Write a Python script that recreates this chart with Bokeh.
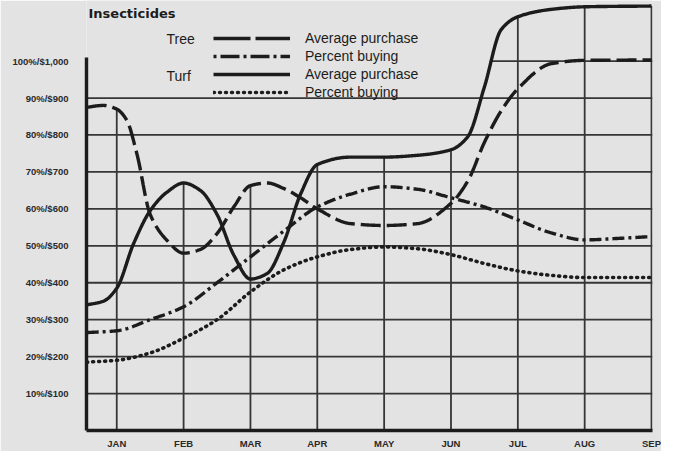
import numpy as np
from bokeh.plotting import figure
from bokeh.models import (FixedTicker, Range1d, Label, Legend, LegendItem)
from bokeh.embed import file_html
from bokeh.resources import INLINE

# ---------------- data ----------------
months = ["JAN", "FEB", "MAR", "APR", "MAY", "JUN", "JUL", "AUG", "SEP"]
month_pos = [0, 1, 2, 3, 4, 5, 6, 7, 8]

y_ticks = [10, 20, 30, 40, 50, 60, 70, 80, 90, 100]
y_tick_labels = ["10%/$100", "20%/$200", "30%/$300", "40%/$400", "50%/$500",
                 "60%/$600", "70%/$700", "80%/$800", "90%/$900", "100%/$1,000"]

# Tree - average purchase (long dashes)
tree_avg_x = [-0.45, -0.2, 0, 0.15, 0.3, 0.5, 0.75, 1, 1.25, 1.5, 1.75, 2, 2.25,
              2.5, 2.75, 3, 3.5, 4, 4.5, 5, 5.25, 5.5, 5.75, 6, 6.5, 7, 8]
tree_avg_y = [87.5, 88, 87, 84, 75, 58.5, 51.5, 48, 49, 53.3, 60.5, 66.3, 67,
              65.5, 63, 60, 56, 55.5, 56, 61.5, 67.5, 78, 86.5, 92.5, 99.3, 100.2, 100.3]

# Tree - percent buying (dash-dot)
tree_pct_x = [-0.45, 0, 0.5, 1, 1.5, 2, 2.5, 3, 3.5, 4, 4.5, 5, 5.5, 6, 6.5, 7, 7.5, 8]
tree_pct_y = [26.5, 27, 30, 33.5, 40, 47, 54, 60.5, 64, 66, 65.3, 63, 60.5, 57,
              53.5, 51.6, 52, 52.5]

# Turf - average purchase (solid)
turf_avg_x = [-0.45, -0.2, 0, 0.25, 0.5, 0.75, 1, 1.25, 1.5, 1.75, 2, 2.25, 2.5,
              2.75, 3, 3.5, 4, 4.5, 5, 5.25, 5.5, 5.75, 6, 6.5, 7, 8]
turf_avg_y = [34, 35, 38.5, 50.5, 59.5, 64.5, 67, 65, 58.5, 47.5, 41, 42.5, 51,
              64, 72, 74, 74, 74.5, 76, 79.5, 93, 108.5, 112, 114, 114.7, 114.9]

# Turf - percent buying (dotted)
turf_pct_x = [-0.45, 0, 0.5, 1, 1.5, 2, 2.5, 3, 3.5, 4, 4.5, 5, 5.5, 6, 6.5, 7, 8]
turf_pct_y = [18.5, 19, 21, 25, 30, 37.5, 43.5, 47, 49, 49.7, 49.2, 47.6, 45.2,
              43.2, 42, 41.4, 41.4]

# ---------------- styling ----------------
BG = "#e3e3e3"
INK = "#1c1c1c"
GRID = "#363636"


def smooth(xs, ys, n=700):
    """Monotone cubic (PCHIP) rendering of the read points."""
    xs = np.asarray(xs, float)
    ys = np.asarray(ys, float)
    h = np.diff(xs)
    d = np.diff(ys) / h
    m = np.zeros(len(xs))
    for k in range(1, len(xs) - 1):
        if d[k - 1] * d[k] > 0:
            w1 = 2 * h[k] + h[k - 1]
            w2 = h[k] + 2 * h[k - 1]
            m[k] = (w1 + w2) / (w1 / d[k - 1] + w2 / d[k])
    m[0] = d[0]
    m[-1] = d[-1]
    xq = np.linspace(xs[0], xs[-1], n)
    i = np.clip(np.searchsorted(xs, xq, side="right") - 1, 0, len(xs) - 2)
    t = (xq - xs[i]) / h[i]
    h00 = 2 * t**3 - 3 * t**2 + 1
    h10 = t**3 - 2 * t**2 + t
    h01 = -2 * t**3 + 3 * t**2
    h11 = t**3 - t**2
    yq = h00 * ys[i] + h10 * h[i] * m[i] + h01 * ys[i + 1] + h11 * h[i] * m[i + 1]
    return xq, yq


X0, X1 = -0.4526, 8.0146
Y0, Y1 = 0, 116.4

p = figure(width=661, height=451, output_backend="svg", toolbar_location=None,
           x_range=Range1d(X0, X1), y_range=Range1d(Y0, Y1),
           min_border_left=86, min_border_right=9, min_border_top=0,
           min_border_bottom=21)
p.background_fill_color = BG
p.border_fill_color = BG
p.outline_line_color = None
p.xgrid.visible = False
p.ygrid.visible = False

curves = {
    "tree_avg": smooth(tree_avg_x, tree_avg_y),
    "tree_pct": smooth(tree_pct_x, tree_pct_y),
    "turf_avg": smooth(turf_avg_x, turf_avg_y),
    "turf_pct": smooth(turf_pct_x, turf_pct_y),
}

# ---------------- grid (drawn as segments, clipped by the top curve) ----------------
tops = []
for mp in month_pos:
    tops.append(max(np.interp(mp, cx, cy) for cx, cy in curves.values()))
p.segment(x0=month_pos, y0=[0] * len(month_pos), x1=month_pos, y1=tops,
          line_color=GRID, line_width=1.8)

tx, ty = curves["turf_avg"]
cross_x = float(tx[np.argmax(ty >= 100)])
h_x0 = [X0 if t < 100 else cross_x for t in y_ticks]
p.segment(x0=h_x0, y0=y_ticks, x1=[X1] * len(y_ticks), y1=y_ticks,
          line_color=GRID, line_width=1.8)

# ---------------- curves ----------------
cx, cy = curves["tree_avg"]
p.line(cx, cy, line_color=INK, line_width=3.4, line_dash="20 6")
cx, cy = curves["tree_pct"]
p.line(cx, cy, line_color=INK, line_width=3.4, line_dash="12 4 3 4")
cx, cy = curves["turf_avg"]
p.line(cx, cy, line_color=INK, line_width=3.4)
cx, cy = curves["turf_pct"]
p.line(cx, cy, line_color=INK, line_width=3.6, line_dash="1 5", line_cap="round")

# ---------------- legend (sample styles) ----------------
nan1 = np.array([np.nan])
lg1 = p.line(nan1, nan1, line_color=INK, line_width=3.4, line_dash="37 5")
lg2 = p.line(nan1, nan1, line_color=INK, line_width=3.4, line_dash="3 4 19 4")
lg3 = p.line(nan1, nan1, line_color=INK, line_width=3.6)
lg4 = p.line(nan1, nan1, line_color=INK, line_width=3.4, line_dash="1 5", line_cap="round")
legend = Legend(items=[
    LegendItem(label="Average purchase", renderers=[lg1]),
    LegendItem(label="Percent buying", renderers=[lg2]),
    LegendItem(label="Average purchase", renderers=[lg3]),
    LegendItem(label="Percent buying", renderers=[lg4]),
], location=(127, 329), padding=0, margin=0, spacing=0,
    glyph_width=77, glyph_height=18, label_height=18, label_standoff=15,
    label_text_font="Liberation Sans", label_text_font_size="14px",
    label_text_color=INK, label_text_baseline="alphabetic",
    background_fill_alpha=0, border_line_color=None)
p.add_layout(legend, "center")

for txt, x, y in [("Tree", 80, 392), ("Turf", 80, 355)]:
    p.add_layout(Label(x=x, y=y, x_units="screen", y_units="screen", text=txt,
                       text_font="Liberation Sans", text_font_size="14px",
                       text_color=INK, text_baseline="middle", text_align="left"))

p.add_layout(Label(x=2, y=417, x_units="screen", y_units="screen",
                   text="Insecticides", text_font="DejaVu Sans",
                   text_font_style="bold", text_font_size="13px",
                   text_color=INK, text_baseline="middle", text_align="left"))

# ---------------- axes ----------------
p.xaxis.ticker = FixedTicker(ticks=month_pos)
p.xaxis.major_label_overrides = {m: lab for m, lab in zip(month_pos, months)}
p.yaxis.ticker = FixedTicker(ticks=y_ticks)
p.yaxis.major_label_overrides = {t: lab for t, lab in zip(y_ticks, y_tick_labels)}
p.yaxis.bounds = (0, 101)

for ax in (p.xaxis[0], p.yaxis[0]):
    ax.axis_line_width = 3.4
    ax.axis_line_color = INK
    ax.major_tick_line_color = None
    ax.minor_tick_line_color = None
    ax.major_tick_out = 0
    ax.major_tick_in = 0
    ax.minor_tick_out = 0
    ax.minor_tick_in = 0
    ax.major_label_text_font = "Liberation Sans"
    ax.major_label_text_font_style = "bold"
    ax.major_label_text_color = "#2a2a2a"
p.xaxis.major_label_text_font_size = "9.5px"
p.yaxis.major_label_text_font_size = "9.5px"
p.xaxis.major_label_standoff = 7
p.yaxis.major_label_standoff = 18

open("out.html", "w").write(file_html(p, INLINE))
